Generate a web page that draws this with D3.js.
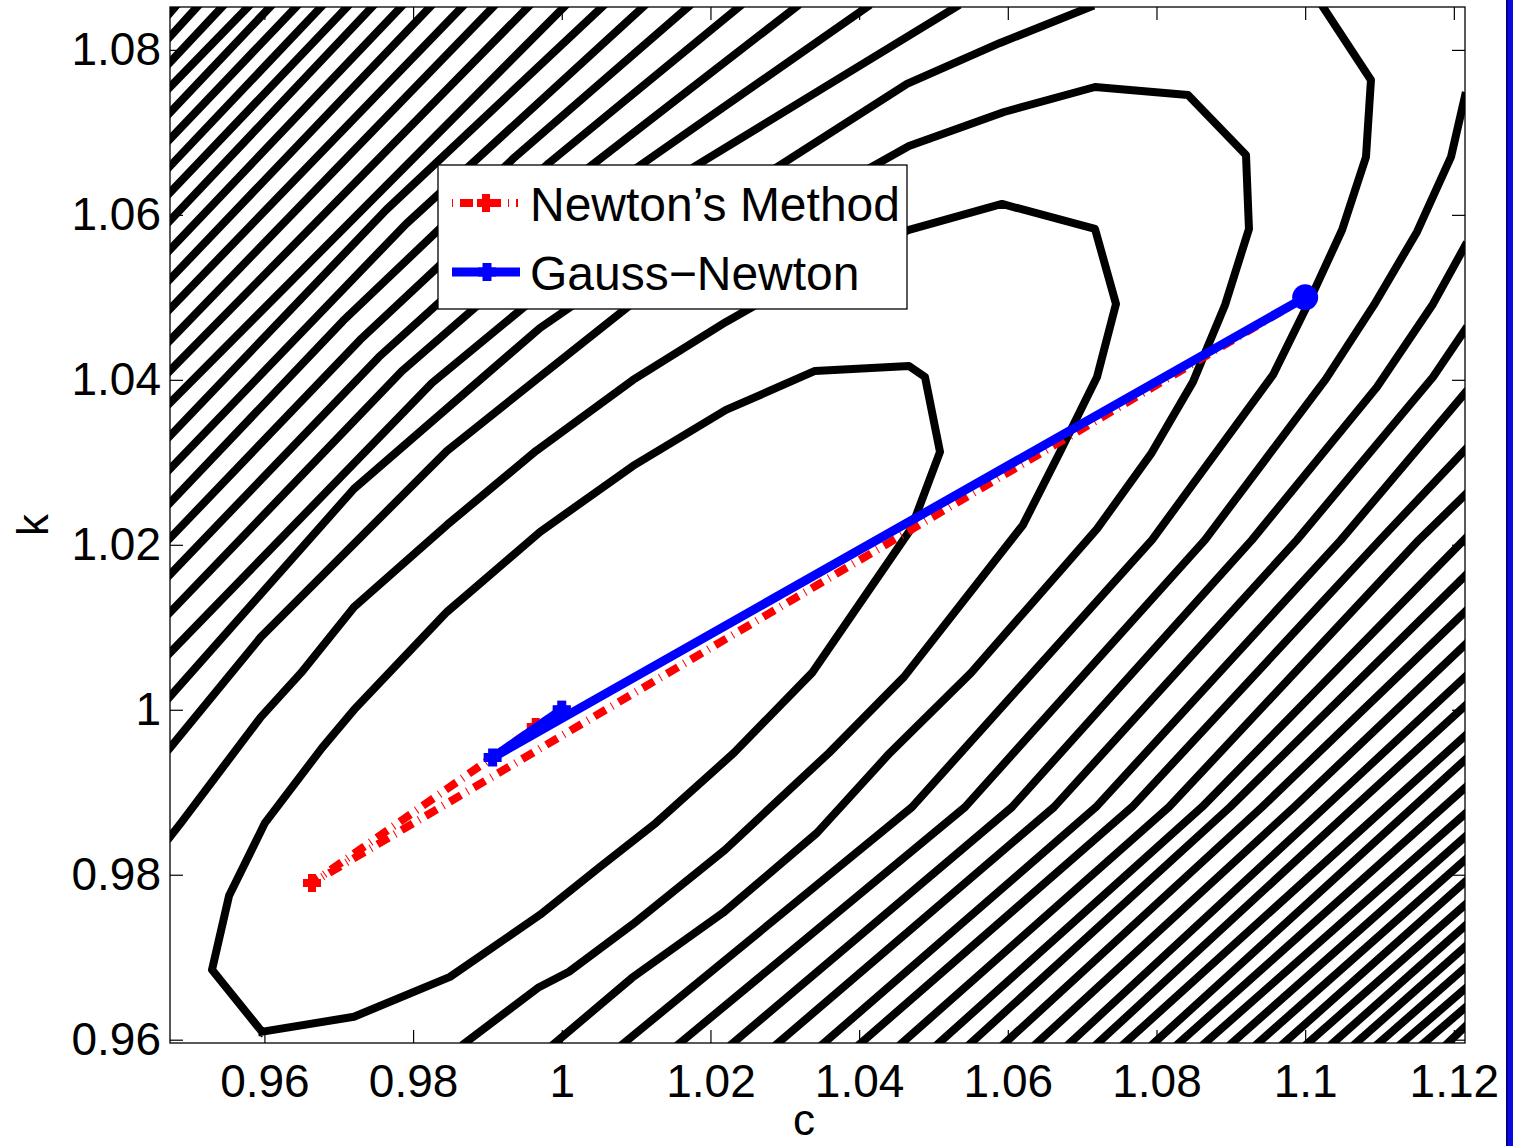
<!DOCTYPE html>
<html><head><meta charset="utf-8">
<script src="https://cdn.jsdelivr.net/npm/d3@7"></script>
<style>body{margin:0;background:#fff} svg{display:block}</style>
</head><body>
<svg id="chart" width="1513" height="1146"></svg>
<script>
// ---------- axis data ----------
const cDomain = [0.9473, 1.1215];
const kDomain = [0.9596, 1.0852];
const xTickValues = [0.96, 0.98, 1.0, 1.02, 1.04, 1.06, 1.08, 1.1, 1.12];
const xTickLabels = ["0.96", "0.98", "1", "1.02", "1.04", "1.06", "1.08", "1.1", "1.12"];
const yTickValues = [0.96, 0.98, 1.0, 1.02, 1.04, 1.06, 1.08];
const yTickLabels = ["0.96", "0.98", "1", "1.02", "1.04", "1.06", "1.08"];
const xTitle = "c";
const yTitle = "k";

// ---------- contour polylines [c, k] ----------
const innerLoop = [[0.95968,0.96096],[0.95295,0.96847],[0.95524,0.97744],[0.96008,0.98629],[0.96775,0.99538],[0.97205,0.99999],[0.98456,1.01187],[0.99707,1.02156],[1.00958,1.02956],[1.02209,1.03635],[1.03406,1.04108],[1.04671,1.04168],[1.04886,1.04035],[1.05088,1.03126],[1.04698,1.02193],[1.03366,1.00447],[1.02317,0.99478],[1.01268,0.98629],[1.00514,0.98096],[0.99707,0.97514],[0.98496,0.96762],[0.97205,0.96278],[0.95968,0.96096]];

const valleyContours = [
  [[0.9473,0.98459],[0.94878,0.98629],[0.95618,0.99514],[0.95954,0.99914],[0.96492,1.00447],[0.97205,1.01247],[0.98456,1.02241],[0.99653,1.03138],[1.00958,1.03999],[1.02209,1.04702],[1.03447,1.05332],[1.04671,1.05817],[1.05922,1.06132],[1.07173,1.05829],[1.07455,1.0492],[1.072,1.04035],[1.06702,1.03126],[1.06204,1.02241],[1.04604,1.00399],[1.03595,0.99478],[1.02196,0.98302],[1.00945,0.97393],[1.00097,0.96823],[0.9968,0.96629],[0.98698,0.9596]],
  [[0.9473,0.99538],[0.95954,1.00884],[0.97205,1.02011],[0.98456,1.03138],[0.99653,1.03999],[1.00958,1.04932],[1.02209,1.0555],[1.03447,1.06217],[1.04671,1.06835],[1.05949,1.07247],[1.07173,1.0755],[1.08424,1.07453],[1.09204,1.06726],[1.09244,1.05829],[1.08922,1.04908],[1.08491,1.03975],[1.07926,1.03102],[1.072,1.02193],[1.05505,1.00447],[1.04415,0.99478],[1.03433,0.98508],[1.02169,0.97538],[1.00945,0.9675],[0.99909,0.9596]]
];

const upperLeftContours = [
  [[0.9473,1.0845],[0.94797,1.0852]],
  [[0.9473,1.0816],[0.95093,1.0852]],
  [[0.9473,1.0785],[0.95429,1.0852]],
  [[0.9473,1.0755],[0.95779,1.0852]],
  [[0.9473,1.0724],[0.96075,1.0852]],
  [[0.9473,1.0692],[0.96425,1.0852]],
  [[0.9473,1.0659],[0.96761,1.0852]],
  [[0.9473,1.0627],[0.97111,1.0852]],
  [[0.9473,1.0593],[0.97447,1.0852]],
  [[0.9473,1.0558],[0.97837,1.0852]],
  [[0.9473,1.0522],[0.98227,1.0852]],
  [[0.9473,1.0486],[0.98658,1.0852]],
  [[0.9473,1.0448],[0.99075,1.0852]],
  [[0.9473,1.0411],[0.99546,1.0852]],
  [[0.9473,1.0372],[1.0003,1.0852]],
  [[0.9473,1.0332],[0.97636,1.06059],[1.00541,1.0852]],
  [[0.9473,1.0292],[0.97905,1.0589],[1.01093,1.0852]],
  [[0.9473,1.0251],[0.97057,1.04714],[0.99371,1.06702],[1.01698,1.0852]],
  [[0.9473,1.0208],[0.97286,1.04484],[0.99828,1.06629],[1.02384,1.0852]],
  [[0.9473,1.0164],[0.97541,1.04278],[1.00339,1.06556],[1.03151,1.0852]],
  [[0.9473,1.0118],[0.97851,1.04108],[1.00985,1.06556],[1.04106,1.0852]],
  [[0.9473,1.0069],[0.98254,1.03962],[1.01779,1.06581],[1.05303,1.0852]],
  [[0.9473,1.0016],[0.97205,1.02678],[0.99707,1.04629],[1.02209,1.06181],[1.04644,1.07587],[1.05895,1.08084],[1.07106,1.0852]]
];

const lowerRightContours = [
  [[1.00837,0.9596],[1.04711,0.9882],[1.0794,1.0206],[1.09567,1.04059],[1.10038,1.0492],[1.10496,1.05817],[1.10818,1.06702],[1.10885,1.07635],[1.1024,1.0852]],
  [[1.0159,0.9596],[1.05424,0.9882],[1.08653,1.0206],[1.1028,1.04011],[1.10926,1.04908],[1.11504,1.05793],[1.11962,1.06702],[1.1215,1.07441]],
  [[1.02303,0.9596],[1.06056,0.9882],[1.09285,1.0206],[1.10966,1.03914],[1.1172,1.0492],[1.1215,1.05623]],
  [[1.02909,0.9596],[1.06621,0.9882],[1.0989,1.0206],[1.1172,1.04035],[1.1215,1.04605]],
  [[1.03527,0.9596],[1.07186,0.9882],[1.10482,1.0206],[1.1215,1.03841]],
  [[1.04025,0.9596],[1.07671,0.9882],[1.11007,1.0206],[1.1215,1.0315]],
  [[1.04577,0.9596],[1.08168,0.9882],[1.11531,1.0206],[1.1215,1.02605]],
  [[1.05074,0.9596],[1.08612,0.9882],[1.1215,1.02072]],
  [[1.05505,0.9596],[1.08989,0.9882],[1.1215,1.01623]],
  [[1.05962,0.9596],[1.09419,0.9882],[1.1215,1.01187]],
  [[1.06393,0.9596],[1.0985,0.9882],[1.1215,1.00787]],
  [[1.06837,0.9596],[1.10267,0.9882],[1.1215,1.00399]],
  [[1.07213,0.9596],[1.10657,0.9882],[1.1215,1.00047]],
  [[1.07576,0.9596],[1.1215,0.99684]],
  [[1.07967,0.9596],[1.1215,0.99393]],
  [[1.08303,0.9596],[1.1215,0.99053]],
  [[1.08653,0.9596],[1.1215,0.98738]],
  [[1.09016,0.9596],[1.1215,0.98459]],
  [[1.09366,0.9596],[1.1215,0.98181]],
  [[1.09715,0.9596],[1.1215,0.97914]],
  [[1.10038,0.9596],[1.1215,0.97635]],
  [[1.10374,0.9596],[1.1215,0.97381]],
  [[1.10684,0.9596],[1.1215,0.97126]],
  [[1.10993,0.9596],[1.1215,0.96872]],
  [[1.11303,0.9596],[1.1215,0.96617]],
  [[1.11598,0.9596],[1.1215,0.96387]],
  [[1.11921,0.9596],[1.1215,0.96156]]
];

// ---------- iteration paths ----------
const newtonC = [1.1, 0.9664, 0.9965, 1.0];
const newtonK = [1.05, 0.9790, 0.9979, 1.0];
const gaussC = [1.1, 0.9907, 1.0];
const gaussK = [1.05, 0.9942, 1.0];
const startC = 1.1, startK = 1.05;
const legendLabels = ["Newton\u2019s Method", "Gauss\u2212Newton"];

// ---------- layout ----------
const W = 1513, H = 1146;
const plot = {left: 170, right: 1465, top: 7, bottom: 1043};
const FONT = "'Liberation Sans', Arial, Helvetica, sans-serif";
const RED = "#ff0000", BLUE = "#0000ff";
const LABEL_SIZE = 46;

const svg = d3.select("#chart");
svg.append("rect").attr("width", W).attr("height", H).attr("fill", "#fff");

const x = d3.scaleLinear().domain(cDomain).range([plot.left, plot.right]);
const y = d3.scaleLinear().domain(kDomain).range([plot.bottom, plot.top]);

svg.append("defs").append("clipPath").attr("id", "clip")
  .append("rect").attr("x", plot.left).attr("y", plot.top)
  .attr("width", plot.right - plot.left).attr("height", plot.bottom - plot.top);

// ticks (drawn beneath data, MATLAB default layer)
const tickLen = 13;
const axG = svg.append("g").attr("font-family", FONT);
const xAxisB = d3.axisBottom(x).tickValues(xTickValues).tickFormat((d, i) => xTickLabels[i])
  .tickSizeInner(-tickLen).tickSizeOuter(0).tickPadding(21);
const xAxisT = d3.axisTop(x).tickValues(xTickValues).tickFormat("")
  .tickSizeInner(-tickLen).tickSizeOuter(0);
const yAxisL = d3.axisLeft(y).tickValues(yTickValues).tickFormat((d, i) => yTickLabels[i])
  .tickSizeInner(-tickLen).tickSizeOuter(0).tickPadding(9);
const yAxisR = d3.axisRight(y).tickValues(yTickValues).tickFormat("")
  .tickSizeInner(-tickLen).tickSizeOuter(0);

const gB = axG.append("g").attr("transform", `translate(0,${plot.bottom})`).call(xAxisB);
const gT = axG.append("g").attr("transform", `translate(0,${plot.top})`).call(xAxisT);
const gL = axG.append("g").attr("transform", `translate(${plot.left},0)`).call(yAxisL);
const gR = axG.append("g").attr("transform", `translate(${plot.right},0)`).call(yAxisR);
[gB, gT, gL, gR].forEach(g => {
  g.selectAll(".domain").remove();
  g.selectAll(".tick line").attr("stroke", "#000").attr("stroke-width", 1.2);
  g.selectAll("text").attr("font-size", LABEL_SIZE).attr("fill", "#000").attr("font-family", FONT);
});

// contours
const line = d3.line().x(d => x(d[0])).y(d => y(d[1]));
const cg = svg.append("g").attr("clip-path", "url(#clip)")
  .attr("fill", "none").attr("stroke", "#000").attr("stroke-width", 8)
  .attr("stroke-linecap", "square").attr("stroke-linejoin", "round");
const allContours = [innerLoop].concat(valleyContours, upperLeftContours, lowerRightContours);
cg.selectAll("path.contour").data(allContours).enter().append("path")
  .attr("class", "contour").attr("d", line);

// iteration paths
const pg = svg.append("g").attr("clip-path", "url(#clip)");
const newtonPts = newtonC.map((c, i) => [c, newtonK[i]]);
const gaussPts = gaussC.map((c, i) => [c, gaussK[i]]);
const plusPath = "M-9,0H9M0,-9V9";

pg.append("path").datum(newtonPts).attr("d", line)
  .attr("fill", "none").attr("stroke", RED).attr("stroke-width", 8)
  .attr("stroke-dasharray", "13,7,1,7").attr("stroke-linecap", "butt");
pg.selectAll("path.nplus").data(newtonPts).enter().append("path").attr("class", "nplus")
  .attr("transform", d => `translate(${x(d[0])},${y(d[1])})`)
  .attr("d", plusPath).attr("stroke", RED).attr("stroke-width", 8).attr("fill", "none");

pg.append("path").datum(gaussPts).attr("d", line)
  .attr("fill", "none").attr("stroke", BLUE).attr("stroke-width", 9)
  .attr("stroke-linejoin", "round");
pg.selectAll("path.gplus").data(gaussPts).enter().append("path").attr("class", "gplus")
  .attr("transform", d => `translate(${x(d[0])},${y(d[1])})`)
  .attr("d", plusPath).attr("stroke", BLUE).attr("stroke-width", 9).attr("fill", "none");
pg.append("circle").attr("cx", x(startC)).attr("cy", y(startK)).attr("r", 13).attr("fill", BLUE);

// axes box
svg.append("rect").attr("x", plot.left).attr("y", plot.top)
  .attr("width", plot.right - plot.left).attr("height", plot.bottom - plot.top)
  .attr("fill", "none").attr("stroke", "#000").attr("stroke-width", 1.3);

// axis titles
svg.append("text").attr("x", 804).attr("y", 1135)
  .attr("text-anchor", "middle").attr("font-family", FONT).attr("font-size", 44).text(xTitle);
svg.append("text").attr("transform", `translate(48,${(plot.top + plot.bottom) / 2}) rotate(-90)`)
  .attr("text-anchor", "middle").attr("font-family", FONT).attr("font-size", 44).text(yTitle);

// legend
const lg = svg.append("g");
lg.append("rect").attr("x", 438).attr("y", 165).attr("width", 469).attr("height", 144)
  .attr("fill", "#fff").attr("stroke", "#000").attr("stroke-width", 1.3);
lg.append("line").attr("x1", 452).attr("x2", 518).attr("y1", 203).attr("y2", 203)
  .attr("stroke", RED).attr("stroke-width", 8).attr("stroke-dasharray", "1,7,13,7");
lg.append("path").attr("transform", "translate(486,203)").attr("d", plusPath)
  .attr("stroke", RED).attr("stroke-width", 8).attr("fill", "none");
lg.append("line").attr("x1", 452).attr("x2", 520).attr("y1", 272).attr("y2", 272)
  .attr("stroke", BLUE).attr("stroke-width", 9);
lg.append("path").attr("transform", "translate(487,272)").attr("d", plusPath)
  .attr("stroke", BLUE).attr("stroke-width", 9).attr("fill", "none");
lg.selectAll("text").data(legendLabels).enter().append("text")
  .attr("x", 530).attr("y", (d, i) => i === 0 ? 221 : 290)
  .attr("font-family", FONT).attr("font-size", 48).attr("fill", "#000").text(d => d);

// blue bar at right edge of the picture (neighbouring figure)
svg.append("rect").attr("x", 1506).attr("y", 0).attr("width", 7).attr("height", H).attr("fill", "#0a0ae0");
svg.append("rect").attr("x", 1506).attr("y", 0).attr("width", 1.5).attr("height", H).attr("fill", "#000070");
</script>
</body></html>
